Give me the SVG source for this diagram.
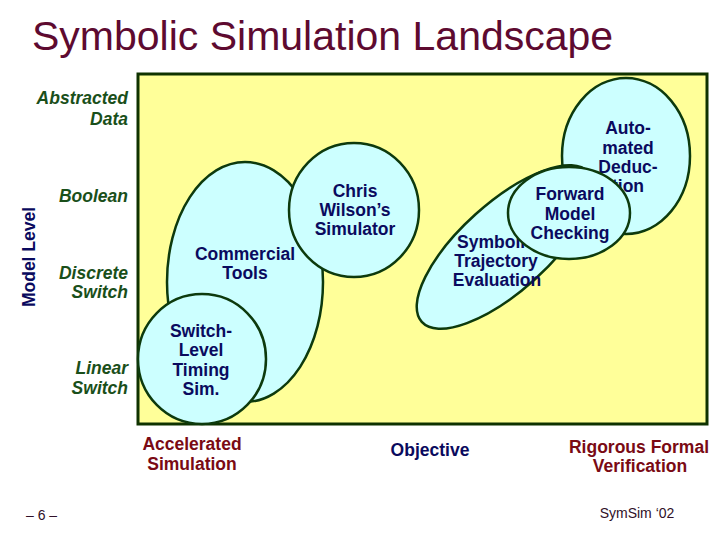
<svg xmlns="http://www.w3.org/2000/svg" width="719" height="539" viewBox="0 0 719 539">
<style>
.bg{fill:#ffffff}
.field{fill:#ffff99;stroke:#0f3300;stroke-width:3}
.node{fill:#ccffff;stroke:#0d3a0d;stroke-width:2.5}
.nt{font-family:"Liberation Sans",Arial,sans-serif;font-weight:bold;font-size:17.5px;fill:#0a0a5e;text-anchor:middle}
.lv{font-family:"Liberation Sans",Arial,sans-serif;font-weight:bold;font-style:italic;font-size:17.5px;fill:#1a4f1a;text-anchor:end}
.ax{font-family:"Liberation Sans",Arial,sans-serif;font-weight:bold;font-size:17.5px;fill:#7a0a14;text-anchor:middle}
.ob{font-family:"Liberation Sans",Arial,sans-serif;font-weight:bold;font-size:17.5px;fill:#0a0a5e;text-anchor:middle}
.title{font-family:"Liberation Sans",Arial,sans-serif;font-size:41px;fill:#5e0a30}
.foot{font-family:"Liberation Sans",Arial,sans-serif;font-size:14px;fill:#301028}
</style>
<rect class="bg" x="0" y="0" width="719" height="539"/>
<text class="title" x="32" y="50">Symbolic Simulation Landscape</text>
<rect class="field" x="138" y="74" width="569" height="350"/>

<g id="axis-labels">
<text class="lv" x="128" y="104">Abstracted</text>
<text class="lv" x="128" y="125">Data</text>
<text class="lv" x="128" y="202">Boolean</text>
<text class="lv" x="128" y="279">Discrete</text>
<text class="lv" x="128" y="298">Switch</text>
<text class="lv" x="128" y="374">Linear</text>
<text class="lv" x="128" y="394">Switch</text>
<text class="ob" transform="translate(35,257) rotate(-90)">Model Level</text>
<text class="ax" x="192" y="450">Accelerated</text>
<text class="ax" x="192" y="470">Simulation</text>
<text class="ob" x="430" y="456">Objective</text>
<text class="ax" x="639" y="453">Rigorous Formal</text>
<text class="ax" x="640" y="472">Verification</text>
</g>

<g id="connectors"></g>

<g id="commercial-tools">
<ellipse class="node" cx="245" cy="282" rx="78" ry="120"/>
<text class="nt" x="245" y="260">Commercial</text>
<text class="nt" x="245" y="279">Tools</text>
</g>
<g id="chris-wilson">
<ellipse class="node" cx="354" cy="210" rx="65" ry="67"/>
<text class="nt" x="355" y="197">Chris</text>
<text class="nt" x="355" y="216">Wilson’s</text>
<text class="nt" x="355" y="235">Simulator</text>
</g>
<g id="switch-level">
<ellipse class="node" cx="202" cy="359" rx="64" ry="65"/>
<text class="nt" x="201" y="337">Switch-</text>
<text class="nt" x="201" y="356">Level</text>
<text class="nt" x="201" y="376">Timing</text>
<text class="nt" x="201" y="395">Sim.</text>
</g>
<g id="automated-deduction">
<ellipse class="node" cx="626" cy="156" rx="64" ry="78"/>
<text class="nt" x="628" y="134">Auto-</text>
<text class="nt" x="628" y="154">mated</text>
<text class="nt" x="628" y="173">Deduc-</text>
<text class="nt" x="628" y="192">tion</text>
</g>
<g id="symbolic-trajectory">
<ellipse class="node" cx="505" cy="247" rx="112" ry="44" transform="rotate(-42 505 247)"/>
<text class="nt" x="496" y="248">Symbolic</text>
<text class="nt" x="496" y="267">Trajectory</text>
<text class="nt" x="497" y="286">Evaluation</text>
</g>
<g id="forward-model-checking">
<ellipse class="node" cx="569" cy="213" rx="61" ry="46"/>
<text class="nt" x="570" y="200">Forward</text>
<text class="nt" x="570" y="220">Model</text>
<text class="nt" x="570" y="239">Checking</text>
</g>

<text class="foot" x="26" y="520" font-size="15">– 6 –</text>
<text class="foot" x="637" y="518" text-anchor="middle">SymSim ‘02</text>
</svg>
